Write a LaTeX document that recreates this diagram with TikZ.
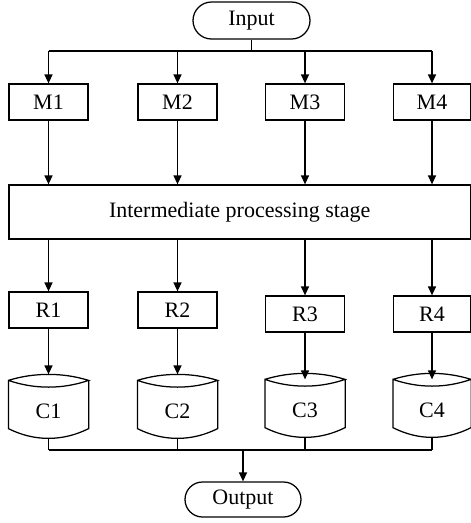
\documentclass[tikz,border=0pt]{standalone}
\usepackage{fontspec}
\setmainfont{Liberation Serif}
\usetikzlibrary{arrows.meta,shapes.misc}
\begin{document}
\begin{tikzpicture}[x=1pt,y=-1pt,
  font=\fontsize{22}{25}\selectfont,
  line width=1.25pt,
  box/.style={draw, rectangle, minimum width=79pt, minimum height=36pt, inner sep=0pt},
  term/.style={draw, rounded rectangle, minimum width=117pt, minimum height=37pt, inner sep=0pt},
  cyl/.style={minimum width=79pt, inner sep=0pt, text height=37pt, text depth=10pt},
  arr/.style={-{Triangle[length=9pt,width=8pt]}}]
\useasboundingbox (0,0) rectangle (471,523);

\node[term] (in) at (251.5,20.5) {Input};
\node[box] (M1) at (48.5,102) {M1};
\node[box] (M2) at (177.5,102) {M2};
\node[box] (M3) at (305,102) {M3};
\node[box, minimum width=77pt] (M4) at (432,102) {M4};

\node[box, minimum width=461.5pt, minimum height=54pt] (IP) at (239.75,212) {Intermediate processing stage};

\node[box] (R1) at (48.5,310) {R1};
\node[box] (R2) at (177.5,310) {R2};
\node[box] (R3) at (305,314) {R3};
\node[box, minimum width=77pt] (R4) at (432,314) {R4};

\node[cyl] (C1) at (48.5,404.5) {C1};
\node[cyl] (C2) at (177.5,404.5) {C2};
\node[cyl] (C3) at (305,403.5) {C3};
\node[cyl, minimum width=77pt] (C4) at (432,403.5) {C4};

\node[term, minimum width=116pt, minimum height=35pt] (out) at (243,499.5) {Output};

\foreach \c in {C1,C2,C3,C4}{
  \draw (\c.north west) .. controls +(26,-8) and +(-26,-8) .. (\c.north east)
        .. controls +(-26,9) and +(26,9) .. (\c.north west) -- (\c.south west)
        .. controls +(26,13) and +(-26,13) .. (\c.south east) -- (\c.north east);
}

\coordinate (top) at (251.5,51);
\draw (in.south) -- (top);
\draw (M1.north |- top) -- (M4.north |- top);
\foreach \m in {M1,M2,M3,M4}{
  \draw[arr] (\m.north |- top) -- (\m.north);
  \draw[arr] (\m.south) -- (\m.south |- IP.north);
}
\foreach \r in {R1,R2,R3,R4}{
  \draw[arr] (\r.north |- IP.south) -- (\r.north);
}
\draw[arr] (R1.south) -- ([yshift=6pt]C1.north);
\draw[arr] (R2.south) -- ([yshift=6pt]C2.north);
\draw[arr] (R3.south) -- (C3.north);
\draw[arr] (R4.south) -- (C4.north);

\coordinate (bot) at (243,450);
\foreach \c in {C1,C2,C3,C4}{
  \draw ([yshift=-10pt]\c.south) -- (\c.south |- bot);
}
\draw (C1.south |- bot) -- (C4.south |- bot);
\draw[arr] (bot) -- (out.north);
\end{tikzpicture}
\end{document}
